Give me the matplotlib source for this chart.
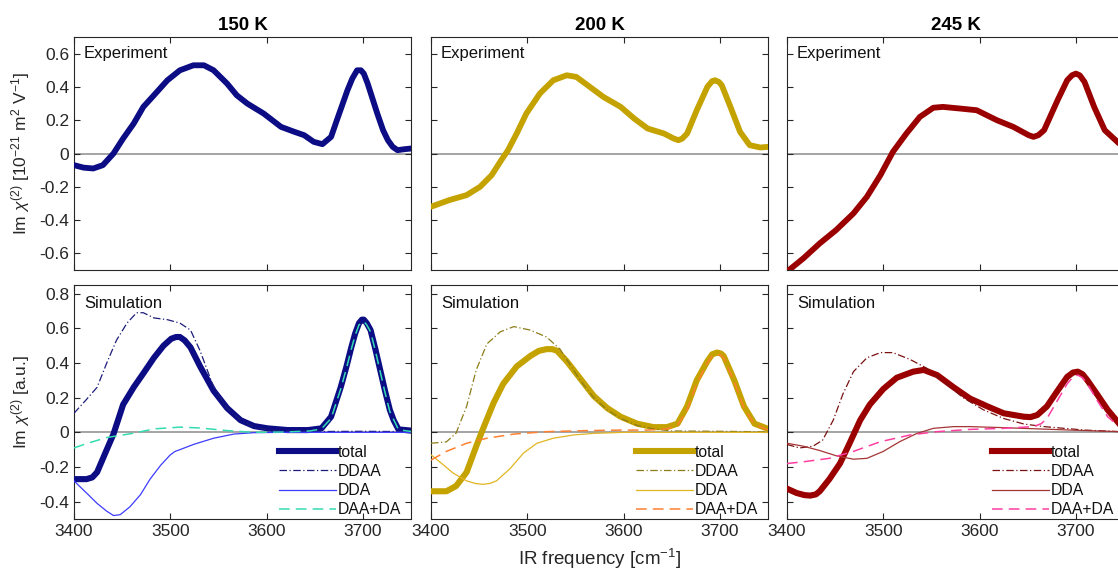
import numpy as np
import matplotlib.pyplot as plt

plt.rcParams['font.family'] = ['Liberation Sans', 'DejaVu Sans']
plt.rcParams['mathtext.fontset'] = 'custom'
plt.rcParams['mathtext.rm'] = 'Liberation Sans'
plt.rcParams['mathtext.it'] = 'Liberation Sans:italic'

temps = ['150 K', '200 K', '245 K']
comp_names = ['total', 'DDAA', 'DDA', 'DAA+DA']

# ---- experiment (top row) ----
exp150_f = [3400, 3410, 3420, 3430, 3441, 3451, 3462, 3472, 3483, 3497, 3510, 3524, 3535, 3545,
            3559, 3569, 3580, 3597, 3615, 3629, 3639, 3649, 3658, 3667, 3673, 3684, 3689, 3694,
            3698, 3701, 3705, 3710, 3715, 3721, 3726, 3731, 3736, 3742, 3750]
exp150_v = [-0.07, -0.085, -0.09, -0.07, 0.0, 0.09, 0.18, 0.28, 0.35, 0.44, 0.50, 0.53, 0.53, 0.50,
            0.42, 0.35, 0.30, 0.24, 0.16, 0.13, 0.11, 0.07, 0.056, 0.10, 0.20, 0.38, 0.45, 0.50,
            0.50, 0.48, 0.42, 0.33, 0.24, 0.14, 0.08, 0.04, 0.02, 0.025, 0.03]

exp200_f = [3400, 3419, 3437, 3451, 3463, 3473, 3480, 3489, 3499, 3513, 3527, 3541, 3551, 3565,
            3579, 3597, 3611, 3625, 3642, 3652, 3657, 3661, 3666, 3676, 3687, 3692, 3695, 3699,
            3702, 3711, 3721, 3731, 3742, 3750]
exp200_v = [-0.32, -0.28, -0.25, -0.20, -0.13, -0.04, 0.02, 0.12, 0.24, 0.36, 0.44, 0.47, 0.46, 0.40,
            0.34, 0.28, 0.21, 0.15, 0.12, 0.09, 0.08, 0.09, 0.12, 0.26, 0.40, 0.435, 0.44, 0.43,
            0.41, 0.28, 0.13, 0.05, 0.036, 0.04]

exp245_f = [3400, 3417, 3434, 3451, 3469, 3483, 3497, 3510, 3524, 3538, 3552, 3562, 3580, 3597,
            3618, 3635, 3651, 3656, 3661, 3667, 3681, 3691, 3696, 3700, 3704, 3709, 3719, 3730,
            3745, 3750]
exp245_v = [-0.71, -0.63, -0.54, -0.46, -0.36, -0.26, -0.13, 0.01, 0.12, 0.22, 0.275, 0.28, 0.27, 0.26,
            0.20, 0.16, 0.11, 0.10, 0.11, 0.14, 0.32, 0.44, 0.47, 0.48, 0.47, 0.43, 0.28, 0.14,
            0.06, 0.05]

# ---- simulation (bottom row) ----
tot150_f = [3400, 3413, 3419, 3424, 3434, 3441, 3451, 3462, 3472, 3483, 3493, 3501, 3506, 3510,
            3515, 3521, 3531, 3545, 3559, 3573, 3587, 3601, 3622, 3643, 3657, 3667, 3677, 3683,
            3688, 3692, 3696, 3699, 3701, 3704, 3708, 3713, 3718, 3723, 3728, 3732, 3737, 3750]
tot150_v = [-0.27, -0.27, -0.26, -0.23, -0.10, -0.01, 0.16, 0.26, 0.34, 0.43, 0.50, 0.54, 0.55,
            0.55, 0.53, 0.49, 0.38, 0.24, 0.14, 0.07, 0.036, 0.023, 0.013, 0.013, 0.023, 0.09, 0.26,
            0.38, 0.49, 0.57, 0.63, 0.65, 0.65, 0.63, 0.59, 0.48, 0.36, 0.24, 0.13, 0.07, 0.017,
            0.01]
ddaa150_f = [3400, 3413, 3424, 3434, 3444, 3455, 3465, 3472, 3483, 3497, 3510, 3521, 3531, 3545,
             3559, 3573, 3587, 3601, 3622, 3660, 3700, 3750]
ddaa150_v = [0.11, 0.19, 0.26, 0.40, 0.53, 0.63, 0.69, 0.69, 0.66, 0.65, 0.63, 0.59, 0.47, 0.26,
             0.14, 0.07, 0.03, 0.015, 0.006, 0.005, 0.006, 0.004]
dda150_f = [3400, 3413, 3424, 3434, 3441, 3448, 3458, 3469, 3479, 3490, 3500, 3505, 3510, 3524,
            3545, 3566, 3587, 3620, 3750]
dda150_v = [-0.28, -0.35, -0.41, -0.455, -0.48, -0.475, -0.43, -0.36, -0.27, -0.19, -0.13, -0.11,
            -0.10, -0.07, -0.034, -0.01, -0.002, 0.0, 0.0]
daa150_f = [3400, 3413, 3434, 3462, 3483, 3510, 3531, 3559, 3587, 3620, 3645, 3657, 3667, 3677,
            3683, 3688, 3692, 3696, 3701, 3704, 3708, 3713, 3718, 3723, 3728, 3737, 3750]
daa150_v = [-0.09, -0.065, -0.03, -0.005, 0.02, 0.03, 0.025, 0.01, 0.0, 0.002, 0.008, 0.02, 0.08,
            0.25, 0.37, 0.48, 0.56, 0.62, 0.64, 0.62, 0.58, 0.47, 0.35, 0.23, 0.12, 0.015, 0.005]

tot200_f = [3400, 3416, 3426, 3437, 3447, 3454, 3465, 3475, 3489, 3503, 3512, 3520, 3526, 3531,
            3541, 3555, 3569, 3583, 3597, 3614, 3631, 3645, 3656, 3666, 3676, 3687, 3692, 3697,
            3701, 3704, 3715, 3725, 3736, 3750]
tot200_v = [-0.34, -0.34, -0.31, -0.23, -0.08, 0.02, 0.17, 0.28, 0.38, 0.44, 0.47, 0.48, 0.48,
            0.47, 0.41, 0.31, 0.21, 0.14, 0.09, 0.05, 0.03, 0.03, 0.05, 0.15, 0.30, 0.41, 0.45,
            0.46, 0.455, 0.44, 0.30, 0.15, 0.05, 0.02]
ddaa200_f = [3400, 3416, 3426, 3437, 3447, 3458, 3472, 3486, 3503, 3520, 3534, 3541, 3555, 3569,
             3583, 3597, 3614, 3631, 3650, 3700, 3750]
ddaa200_v = [-0.063, -0.055, -0.005, 0.15, 0.36, 0.51, 0.58, 0.61, 0.59, 0.55, 0.48, 0.42, 0.30, 0.20,
             0.13, 0.08, 0.04, 0.02, 0.008, 0.006, 0.003]
dda200_f = [3400, 3409, 3423, 3437, 3446, 3454, 3461, 3468, 3482, 3496, 3510, 3527, 3548, 3569,
            3600, 3750]
dda200_v = [-0.13, -0.17, -0.235, -0.28, -0.295, -0.30, -0.295, -0.28, -0.21, -0.12, -0.063,
            -0.034, -0.015, -0.006, 0.0, 0.0]
daa200_f = [3400, 3416, 3437, 3458, 3486, 3520, 3562, 3597, 3625, 3645, 3656, 3666, 3676, 3687, 3692,
            3697, 3701, 3704, 3715, 3725, 3736, 3750]
daa200_v = [-0.16, -0.11, -0.063, -0.034, -0.01, 0.004, 0.01, 0.013, 0.013, 0.02, 0.04, 0.13, 0.28,
            0.40, 0.44, 0.45, 0.445, 0.43, 0.29, 0.14, 0.045, 0.015]

tot245_f = [3398, 3410, 3418, 3424, 3430, 3434, 3444, 3455, 3465, 3476, 3486, 3500, 3514, 3531,
            3542, 3556, 3573, 3590, 3608, 3625, 3646, 3653, 3660, 3670, 3681, 3691, 3697, 3702,
            3707, 3712, 3722, 3733, 3745, 3750]
tot245_v = [-0.32, -0.35, -0.362, -0.365, -0.358, -0.34, -0.27, -0.18, -0.063, 0.07, 0.16, 0.25,
            0.315, 0.35, 0.36, 0.33, 0.26, 0.195, 0.15, 0.11, 0.09, 0.088, 0.10, 0.15, 0.24, 0.32,
            0.345, 0.35, 0.335, 0.30, 0.22, 0.13, 0.05, 0.03]
ddaa245_f = [3400, 3413, 3427, 3437, 3448, 3458, 3469, 3483, 3497, 3510, 3528, 3545, 3563, 3583,
             3604, 3625, 3646, 3667, 3688, 3709, 3750]
ddaa245_v = [-0.07, -0.09, -0.08, -0.045, 0.07, 0.22, 0.35, 0.43, 0.46, 0.46, 0.42, 0.37, 0.29, 0.20,
             0.13, 0.08, 0.048, 0.033, 0.023, 0.013, 0.003]
dda245_f = [3400, 3417, 3434, 3451, 3469, 3483, 3500, 3517, 3535, 3552, 3573, 3590, 3625, 3660,
            3695, 3750]
dda245_v = [-0.063, -0.08, -0.105, -0.135, -0.155, -0.15, -0.11, -0.054, -0.006, 0.023, 0.033,
            0.033, 0.027, 0.02, 0.013, 0.003]
daa245_f = [3400, 3417, 3444, 3469, 3497, 3528, 3556, 3590, 3625, 3656, 3664, 3670, 3681, 3691,
            3697, 3702, 3707, 3712, 3722, 3733, 3745, 3750]
daa245_v = [-0.18, -0.17, -0.15, -0.11, -0.054, -0.015, 0.004, 0.017, 0.023, 0.033, 0.05, 0.08,
            0.185, 0.28, 0.32, 0.33, 0.315, 0.28, 0.185, 0.09, 0.033, 0.02]

experiment = [(exp150_f, exp150_v), (exp200_f, exp200_v), (exp245_f, exp245_v)]
simulation = [
    [(tot150_f, tot150_v), (ddaa150_f, ddaa150_v), (dda150_f, dda150_v), (daa150_f, daa150_v)],
    [(tot200_f, tot200_v), (ddaa200_f, ddaa200_v), (dda200_f, dda200_v), (daa200_f, daa200_v)],
    [(tot245_f, tot245_v), (ddaa245_f, ddaa245_v), (dda245_f, dda245_v), (daa245_f, daa245_v)],
]

colors = [
    ['#0c0c85', '#1c1c7a', '#3c3cff', '#35dcb0'],
    ['#c4a200', '#8c7d18', '#e2b522', '#ff8030'],
    ['#9a0000', '#7a1010', '#a53535', '#ff3fa0'],
]
styles = ['-', (0, (6, 2, 1, 2)), '-', (0, (7, 4))]
widths = [4.4, 0.9, 0.9, 1.1]

W, H = 1118, 573
fig = plt.figure(figsize=(W / 100, H / 100), dpi=100)
lefts = [74, 431, 787]
pw = 337
ink = '#262626'


def style_axes(ax):
    ax.tick_params(direction='in', top=True, right=True, length=4, labelsize=12.5,
                   colors=ink, width=0.8)
    for s in ax.spines.values():
        s.set_color(ink)
        s.set_linewidth(0.8)
    ax.set_xlim(3400, 3750)
    ax.set_xticks([3400, 3500, 3600, 3700])
    ax.axhline(0, color='#8c8c8c', lw=1.1, zorder=1)


for i in range(3):
    # top: experiment
    ax = fig.add_axes([lefts[i] / W, 1 - 270 / H, pw / W, 233 / H])
    style_axes(ax)
    f, v = experiment[i]
    ax.plot(f, v, color=colors[i][0], lw=4.2, solid_capstyle='round',
            solid_joinstyle='round', zorder=3)
    ax.set_ylim(-0.7, 0.7)
    ax.set_yticks([-0.6, -0.4, -0.2, 0, 0.2, 0.4, 0.6])
    ax.set_yticklabels(['-0.6', '-0.4', '-0.2', '0', '0.2', '0.4', '0.6'])
    ax.set_xticklabels([])
    if i > 0:
        ax.set_yticklabels([])
    else:
        ax.set_ylabel(r'Im $\chi^{(2)}$ [10$^{-21}$ m$^{2}$ V$^{-1}$]', fontsize=12.5,
                      color=ink, labelpad=5)
    ax.set_title(temps[i], fontsize=13.5, fontweight='bold', pad=5)
    ax.text(0.03, 0.93, 'Experiment', transform=ax.transAxes, fontsize=12, color='#111111',
            va='center', ha='left')

    # bottom: simulation
    ax = fig.add_axes([lefts[i] / W, 1 - 519 / H, pw / W, 234 / H])
    style_axes(ax)
    for k in range(4):
        f, v = simulation[i][k]
        ax.plot(f, v, color=colors[i][k], ls=styles[k], lw=widths[k],
                solid_joinstyle='round', label=comp_names[k], zorder=3 if k == 0 else 4)
    ax.set_ylim(-0.5, 0.85)
    ax.set_yticks([-0.4, -0.2, 0, 0.2, 0.4, 0.6, 0.8])
    ax.set_yticklabels(['-0.4', '-0.2', '0', '0.2', '0.4', '0.6', '0.8'])
    ax.set_xticklabels(['3400', '3500', '3600', '3700'])
    if i > 0:
        ax.set_yticklabels([])
    else:
        ax.set_ylabel(r'Im $\chi^{(2)}$ [a.u.]', fontsize=12.5, color=ink, labelpad=5)
    if i == 1:
        ax.set_xlabel(r'IR frequency [cm$^{-1}$]', fontsize=13.5, color=ink, labelpad=6)
    ax.text(0.03, 0.92, 'Simulation', transform=ax.transAxes, fontsize=12, color='#111111',
            va='center', ha='left')
    leg = ax.legend(loc='lower right', frameon=False, fontsize=11.3, handlelength=3.6,
                    handletextpad=0.1, labelspacing=0.27, borderaxespad=0.0,
                    bbox_to_anchor=(0.988, -0.02))
    for t in leg.get_texts():
        t.set_color('#111111')

fig.savefig('out.png', dpi=100)
